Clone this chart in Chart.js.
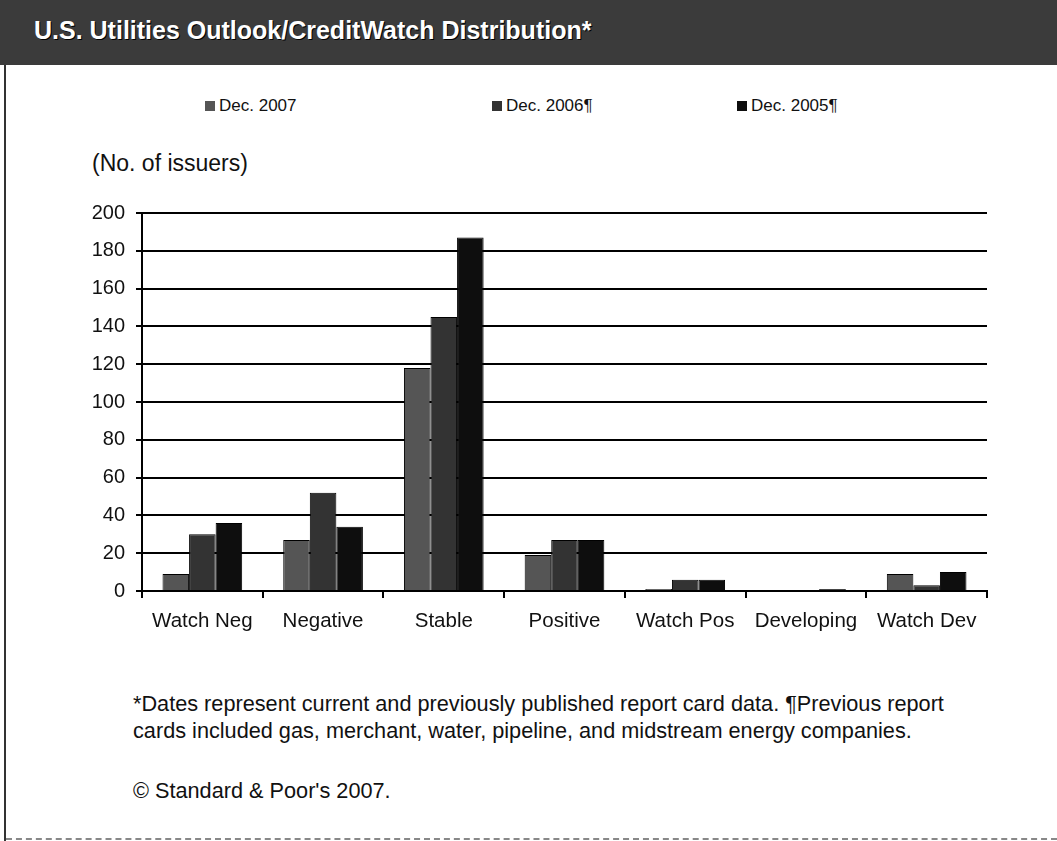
<!DOCTYPE html>
<html>
<head>
<meta charset="utf-8">
<script src="https://cdn.jsdelivr.net/npm/chart.js@4.4.1/dist/chart.umd.min.js"></script>
<style>
  html, body { margin: 0; padding: 0; background: #fff; }
  #page { position: relative; width: 1057px; height: 841px; overflow: hidden; background: #fff;
          font-family: "Liberation Sans", Arial, sans-serif; color: #111; }
  #titlebar { position: absolute; left: 0; top: 0; width: 1057px; height: 65px; background: #3b3b3b; }
  #title { position: absolute; left: 34px; top: 16px; font-size: 25px; font-weight: bold; color: #fff;
           text-shadow: 1px 1px 0 #000; white-space: nowrap; }
  #leftrule { position: absolute; left: 4px; top: 65px; width: 2px; height: 776px; background: #333; }
  #bottomrule { position: absolute; left: 6px; top: 838px; width: 1051px; height: 0; border-top: 2px dashed #888; }
  .legend-item { position: absolute; top: 96px; font-size: 17px; white-space: nowrap; }
  .legend-item span.sw { display: inline-block; width: 10px; height: 10px; margin-right: 4px; vertical-align: 0px; }
  #unit { position: absolute; left: 92px; top: 150px; font-size: 23px; white-space: nowrap; }
  #chartbox { position: absolute; left: 0; top: 180px; width: 1057px; height: 480px; }
  .note { position: absolute; left: 133px; font-size: 21.7px; white-space: nowrap; }
</style>
</head>
<body>
<div id="page">
  <div id="titlebar"><div id="title">U.S. Utilities Outlook/CreditWatch Distribution*</div></div>
  <div id="leftrule"></div>
  <div id="bottomrule"></div>
  <div id="legend"></div>
  <div id="unit">(No. of issuers)</div>
  <div id="chartbox"><canvas id="c" width="1057" height="480"></canvas></div>
  <div class="note" style="top:691px">*Dates represent current and previously published report card data. ¶Previous report</div>
  <div class="note" style="top:718px">cards included gas, merchant, water, pipeline, and midstream energy companies.</div>
  <div class="note" style="top:778px">© Standard &amp; Poor's 2007.</div>
</div>
<script>
// Outlook / CreditWatch categories
const categories = ["Watch Neg", "Negative", "Stable", "Positive", "Watch Pos", "Developing", "Watch Dev"];

// Number of issuers per category
const dec2007 = [9, 27, 118, 19, 1, 0, 9];
const dec2006 = [30, 52, 145, 27, 6, 0, 3];
const dec2005 = [36, 34, 187, 27, 6, 1, 10];

const seriesLabels = ["Dec. 2007", "Dec. 2006¶", "Dec. 2005¶"];
const seriesColors = ["#555555", "#333333", "#0e0e0e"];

const yTicks = [0, 20, 40, 60, 80, 100, 120, 140, 160, 180, 200];

// Legend row laid out across the page
const legendX = [205, 492, 737];
const legendEl = document.getElementById("legend");
seriesLabels.forEach((lab, i) => {
  const d = document.createElement("div");
  d.className = "legend-item";
  d.style.left = legendX[i] + "px";
  const sw = document.createElement("span");
  sw.className = "sw";
  sw.style.background = seriesColors[i];
  d.appendChild(sw);
  d.appendChild(document.createTextNode(lab));
  legendEl.appendChild(d);
});

const values = [dec2007, dec2006, dec2005];
const family = "'Liberation Sans', Arial, sans-serif";

new Chart(document.getElementById("c"), {
  type: "bar",
  data: {
    labels: categories,
    datasets: values.map((v, i) => ({
      label: seriesLabels[i],
      data: v,
      backgroundColor: seriesColors[i],
      borderColor: "#000",
      borderWidth: 1,
      categoryPercentage: 0.66,
      barPercentage: 1.0
    }))
  },
  options: {
    responsive: false,
    animation: false,
    devicePixelRatio: 1,
    layout: { padding: { left: 0, right: 70, top: 33, bottom: 0 } },
    plugins: { legend: { display: false }, tooltip: { enabled: false } },
    scales: {
      x: {
        offset: true,
        grid: { display: true, drawOnChartArea: false, drawTicks: true, tickLength: 7, color: "#000", lineWidth: 2 },
        border: { display: true, color: "#000", width: 2 },
        ticks: { color: "#111", font: { family: family, size: 20.5 }, padding: 11, maxRotation: 0, autoSkip: false },
        afterFit: s => { s.height = 69; }
      },
      y: {
        min: 0,
        max: 200,
        afterBuildTicks: s => { s.ticks = yTicks.map(v => ({ value: v })); },
        grid: { color: "#000", lineWidth: 2, drawTicks: true, tickLength: 6 },
        border: { display: true, color: "#000", width: 2 },
        ticks: { color: "#111", font: { family: family, size: 20 }, padding: 11 },
        afterFit: s => { s.width = 142; }
      }
    }
  }
});
</script>
</body>
</html>
